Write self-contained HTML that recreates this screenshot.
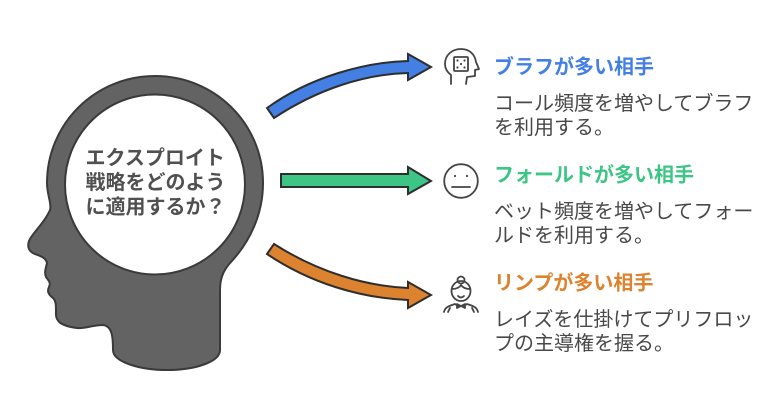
<!DOCTYPE html>
<html lang="ja"><head><meta charset="utf-8"><style>
html,body{margin:0;padding:0;background:#fff;width:781px;height:418px;overflow:hidden}
svg{display:block}
text{font-family:"Liberation Sans","Noto Sans CJK JP",sans-serif;font-size:20px}
.b{font-weight:700}
.t{fill:#484848}
.h{fill:#505050;font-weight:700}
.i{fill:none;stroke:#444;stroke-width:1.8;stroke-linecap:round;stroke-linejoin:round}
</style></head><body>
<svg width="781" height="418" viewBox="0 0 781 418" xmlns="http://www.w3.org/2000/svg">
<path d="M155 76C215 76 263 124 263 183C263 214 250 242 230 263C223 271 220 279 220 290L220 350C220 362 195 370 167 370C140 370 113 362 113 350C113 340 113 326 103 325C92 325 85 329 77 328C62 326 55 322 56 312C56 305 56 301 53 298C48 294 47 291 49 287C51 283 49 281 46 277C44 272 46 268 47 263C46 258 41 256 35 254C29 252 27 247 29 241C32 233 44 224 50 210C52 204 47 195 47 183C47 124 95 76 155 76Z" fill="#636363" stroke="#3a3a3a" stroke-width="2"/>
<circle cx="155" cy="184.500" r="90" fill="#fff" stroke="#3a3a3a" stroke-width="2"/>
<text class="h" x="85.500" y="164.500">エクスプロイト</text>
<text class="h" x="85.500" y="189">戦略をどのよう</text>
<text class="h" x="85.500" y="213.500">に適用するか？</text>
<path d="M267 108C310 77 365 62 408 61L408 54L431 67L408 80L408 73C365 74 318 89 274 118Z" fill="#4480e4" stroke="#2e2e2e" stroke-width="2"/>
<path d="M281 174L408 174L408 167L431 181L408 194L408 187L281 187Z" fill="#3dc585" stroke="#2e2e2e" stroke-width="2"/>
<path d="M274 244C318 272 365 286 408 288L408 282L431 295L408 308L408 300C360 298 310 283 267 254Z" fill="#dd832f" stroke="#2e2e2e" stroke-width="2"/>
<g class="i">
<path d="M451 84L451 75C447 72 445 68 445 64C445 55 452 49 461 49C470 49 475 55 476 62L479 69L475 70L475 76L467 77L466 84"/>
<rect x="454" y="57" width="14" height="14" rx="1"/>
</g>
<g fill="#444"><circle cx="457.500" cy="60.500" r="1.100"/><circle cx="464.500" cy="60.500" r="1.100"/><circle cx="461" cy="64" r="1.100"/><circle cx="457.500" cy="67.500" r="1.100"/><circle cx="464.500" cy="67.500" r="1.100"/></g>
<g class="i">
<circle cx="461" cy="181" r="16.800"/>
<path d="M452 187L470 187"/>
</g>
<g fill="#444"><circle cx="455" cy="176" r="1.100"/><circle cx="467" cy="176" r="1.100"/></g>
<g class="i">
<circle cx="461" cy="280" r="3.500"/>
<ellipse cx="461" cy="291" rx="9.500" ry="10"/>
<path d="M452 289C457 289 460 287 461 285C463 288 466 289 470 289"/>
<path d="M458 296C460 298 462 298 464 296"/>
<path d="M444 312C445 307 449 306 455 304L458 306M478 312C477 307 473 306 467 304L464 306M448 312L450 308M474 312L472 308M457 304L465 308L465 304L457 308Z"/>
</g>
<text class="b" x="494" y="73.500" fill="#4480e4">ブラフが多い相手</text>
<text class="t" x="494" y="110">コール頻度を増やしてブラフ</text>
<text class="t" x="494" y="134">を利用する。</text>
<text class="b" x="494" y="181.500" fill="#3dc585">フォールドが多い相手</text>
<text class="t" x="494" y="218">ベット頻度を増やしてフォー</text>
<text class="t" x="494" y="242">ルドを利用する。</text>
<text class="b" x="494" y="289.500" fill="#dd832f">リンプが多い相手</text>
<text class="t" x="494" y="326">レイズを仕掛けてプリフロッ</text>
<text class="t" x="494" y="350">プの主導権を握る。</text>
</svg>
</body></html>
